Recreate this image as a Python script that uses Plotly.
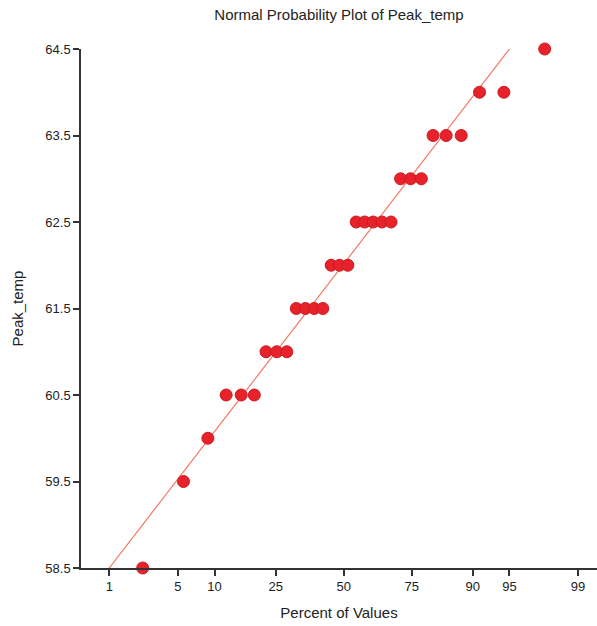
import plotly.graph_objects as go
from statistics import NormalDist

# Data
peak_temp = [58.5, 59.5, 60.0,
             60.5, 60.5, 60.5,
             61.0, 61.0, 61.0,
             61.5, 61.5, 61.5, 61.5,
             62.0, 62.0, 62.0,
             62.5, 62.5, 62.5, 62.5, 62.5,
             63.0, 63.0, 63.0,
             63.5, 63.5, 63.5,
             64.0, 64.0,
             64.5]
percent_ticks = [1, 5, 10, 25, 50, 75, 90, 95, 99]
y_ticks = [58.5, 59.5, 60.5, 61.5, 62.5, 63.5, 64.5]
fit_percent = [1, 95]
fit_values = [58.5, 64.5]

nd = NormalDist()
n = len(peak_temp)
vals = sorted(peak_temp)
# median-rank plotting positions mapped to normal quantiles
xq = [nd.inv_cdf((i + 1 - 0.3) / (n + 0.4)) for i in range(n)]
tick_z = [nd.inv_cdf(p / 100) for p in percent_ticks]
fit_z = [nd.inv_cdf(p / 100) for p in fit_percent]
# extend the reference line across the plot (clipped by the axes)
slope = (fit_values[1] - fit_values[0]) / (fit_z[1] - fit_z[0])
line_x = [-3.0, 3.0]
line_y = [fit_values[0] + slope * (x - fit_z[0]) for x in line_x]

fig = go.Figure()
fig.add_trace(go.Scatter(x=line_x, y=line_y, mode="lines",
                         line=dict(color="#f07a6a", width=1.2),
                         hoverinfo="skip", showlegend=False))
fig.add_trace(go.Scatter(x=xq, y=vals, mode="markers", cliponaxis=False,
                         marker=dict(size=12, color="#e8222b",
                                     line=dict(color="#c81c22", width=1)),
                         showlegend=False))

font = "Liberation Sans, Arial, sans-serif"
fig.update_layout(
    width=597, height=626,
    margin=dict(l=81, r=0, t=49, b=58, autoexpand=False),
    paper_bgcolor="white", plot_bgcolor="white",
    font=dict(family=font, size=13, color="#222"),
    title=dict(text="Normal Probability Plot of Peak_temp", x=339/597, xanchor="center",
               y=1 - 15/626, yanchor="middle", font=dict(size=15, color="#222")),
    xaxis=dict(range=[-2.607, 2.514], tickvals=tick_z, ticktext=[str(p) for p in percent_ticks],
               automargin=False,
               showline=True, linecolor="#333", linewidth=1.5, ticks="outside",
               ticklen=6, tickcolor="#333", tickwidth=1.5, showgrid=False, zeroline=False,
               title=dict(text="Percent of Values", standoff=14, font=dict(size=15))),
    yaxis=dict(range=[58.5, 64.5], tickvals=y_ticks, ticktext=[f"{v:.1f}" for v in y_ticks],
               automargin=False,
               showline=True, linecolor="#333", linewidth=1.5, ticks="outside",
               ticklen=6, tickcolor="#333", tickwidth=1.5, showgrid=False, zeroline=False,
               title=dict(text="Peak_temp", standoff=18, font=dict(size=15))),
)
fig.write_html("out.html", config={"displayModeBar": False},
               post_script="document.body.style.margin='0';document.body.style.overflow='hidden';")
